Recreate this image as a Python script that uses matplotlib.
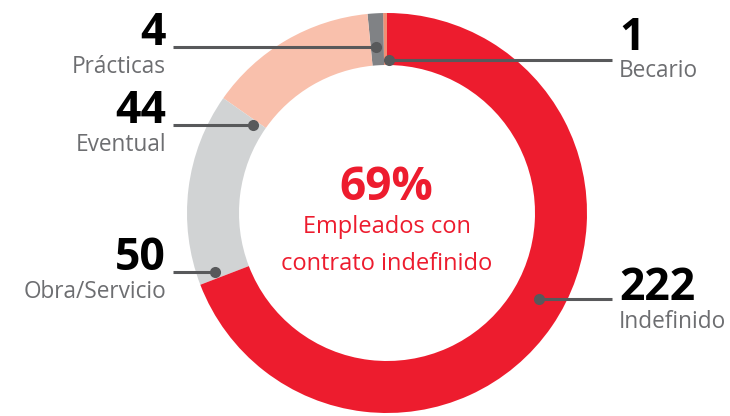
import matplotlib
matplotlib.use('Agg')
import matplotlib.pyplot as plt

plt.rcParams['font.family'] = ['Open Sans', 'DejaVu Sans']

# data
labels = ['Becario', 'Prácticas', 'Eventual', 'Obra/Servicio', 'Indefinido']
values = [1, 4, 44, 50, 222]
colors = ['#F08E74', '#808285', '#F9C0AC', '#D1D3D4', '#ED1C2E']
center_pct = '69%'
center_text = ['Empleados con', 'contrato indefinido']

W, H = 730, 416
fig = plt.figure(figsize=(W / 100, H / 100), dpi=100)
ax = fig.add_axes([0, 0, 1, 1])

cx, cy, R = 387, H - 213, 200
ax.pie(values, colors=colors, startangle=90, counterclock=True,
       center=(cx, cy), radius=R, wedgeprops=dict(width=52, linewidth=0))
ax.set_xlim(0, W)
ax.set_ylim(0, H)
ax.set_aspect('equal')
ax.axis('off')

# annotation layout (pixel coords from top): dot x, dot y, side
layout = {
    'Becario': (389, 60, 'right'),
    'Prácticas': (376, 47, 'left'),
    'Eventual': (253, 125, 'left'),
    'Obra/Servicio': (215, 272, 'left'),
    'Indefinido': (539, 299, 'right'),
}
num_base = {'Becario': 50, 'Prácticas': 45, 'Eventual': 123,
            'Obra/Servicio': 270, 'Indefinido': 300}
lab_base = {'Becario': 77, 'Prácticas': 73, 'Eventual': 151,
            'Obra/Servicio': 298, 'Indefinido': 328}

line_col = '#58595B'
for lab, val in zip(labels, values):
    dx, dy, side = layout[lab]
    if side == 'left':
        x_end, ha, tx = 173, 'right', 166
    else:
        x_end, ha, tx = 612, 'left', 619
    ax.plot([x_end, dx], [H - dy, H - dy], color=line_col, lw=2.2,
            solid_capstyle='butt')
    ax.plot(dx, H - dy, 'o', color=line_col, ms=8, mew=0)
    ax.text(tx, H - num_base[lab], str(val), ha=ha, va='baseline',
            fontsize=32, fontweight='bold', color='#000000')
    ax.text(tx, H - lab_base[lab], lab, ha=ha, va='baseline',
            fontsize=16.3, color='#6D6E71')

ax.text(386, H - 200, center_pct, ha='center', va='baseline',
        fontsize=33, fontweight='bold', color='#ED1C2E')
ax.text(387, H - 233, center_text[0], ha='center', va='baseline',
        fontsize=17, color='#ED1C2E')
ax.text(387, H - 270, center_text[1], ha='center', va='baseline',
        fontsize=17, color='#ED1C2E')

fig.savefig('out.png', dpi=100)
